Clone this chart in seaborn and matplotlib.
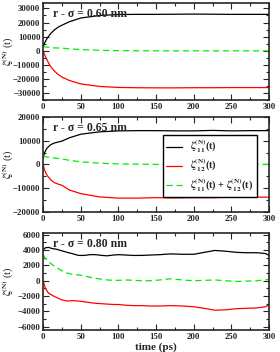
import matplotlib
matplotlib.use("Agg")
import matplotlib.pyplot as plt
from matplotlib.ticker import MultipleLocator
import seaborn as sns
import pandas as pd

# time grid for the two smooth panels
t_smooth = [0, 2, 5, 10, 15, 20, 25, 35, 50, 75, 100, 125, 150, 175, 200, 225, 250, 275, 300]

z11_060 = [2800, 5500, 8500, 12200, 14800, 16700, 18100, 20600, 23200, 25000, 25700,
           25800, 25800, 25900, 26000, 25900, 25800, 25800, 25800]
z12_060 = [0, -3000, -6500, -11300, -14500, -16900, -18700, -21200, -23600, -25400, -26100,
           -26300, -26400, -26400, -26300, -26300, -26200, -26200, -26200]
zsum_060 = [3000, 2800, 2500, 2200, 2000, 1900, 1800, 1300, 800, 250, 0,
            -50, -100, -100, -100, -100, -100, -100, -100]

z11_065 = [2800, 5000, 6800, 8300, 9000, 9400, 9800, 11200, 12700, 13700, 14100,
           14200, 14200, 14100, 14100, 14300, 14100, 14200, 14200]
z12_065 = [0, -2500, -4500, -6500, -7700, -8300, -8800, -10800, -12300, -13700, -14200,
           -14200, -14000, -14100, -14000, -14000, -13800, -13800, -13800]
zsum_065 = [3500, 3300, 3100, 2900, 2700, 2500, 2300, 1700, 1100, 500, 200,
            100, 0, 0, 0, 0, 0, 0, 0]

# noisier panel, more points
t_noisy = [0, 3, 7, 12, 18, 25, 32, 40, 47, 55, 62, 70, 78, 85, 93, 100, 110, 120, 130,
           142, 155, 169, 185, 200, 214, 228, 242, 257, 270, 284, 295, 300]
z11_080 = [4000, 4300, 4350, 4200, 4100, 3900, 3700, 3500, 3300, 3300, 3400, 3400, 3300,
           3250, 3350, 3400, 3350, 3300, 3300, 3350, 3400, 3500, 3450, 3450, 3700, 3950,
           3850, 3700, 3650, 3650, 3550, 3300]
z12_080 = [0, -1000, -1600, -1900, -2200, -2500, -2650, -2600, -2650, -2750, -2850, -2950,
           -3000, -3050, -3100, -3100, -3200, -3250, -3250, -3300, -3300, -3250, -3300,
           -3400, -3600, -3850, -3800, -3650, -3600, -3550, -3400, -3150]
zsum_080 = [3400, 2900, 2500, 2100, 1700, 1300, 1000, 800, 750, 650, 450, 300, 200, 100,
            50, 50, 100, 50, 0, 0, 100, 250, 100, 0, 50, 100, 0, -100, -50, 0, 100, 200]

panel_labels = ["r - \u03c3 = 0.60 nm", "r - \u03c3 = 0.65 nm", "r - \u03c3 = 0.80 nm"]
series_labels = [r"$\zeta^{(N)}_{\ 11}$(t)", r"$\zeta^{(N)}_{\ 12}$(t)",
                 r"$\zeta^{(N)}_{\ 11}$(t) + $\zeta^{(N)}_{\ 12}$(t)"]

panels = [
    (t_smooth, z11_060, z12_060, zsum_060, (-35000, 34000), 10000, 5000),
    (t_smooth, z11_065, z12_065, zsum_065, (-20000, 20000), 10000, 5000),
    (t_noisy, z11_080, z12_080, zsum_080, (-6430, 6200), 2000, 1000),
]

sns.set_style("ticks")
plt.rcParams["font.family"] = ["Liberation Serif", "DejaVu Serif"]
plt.rcParams["font.weight"] = "bold"
plt.rcParams["mathtext.fontset"] = "stix"
plt.rcParams["mathtext.default"] = "bf"

fig = plt.figure(figsize=(2.8, 3.52), dpi=100)
# axes boxes in figure fractions [left, bottom, width, height]
boxes = [[0.154, 0.716, 0.807, 0.276],
         [0.154, 0.398, 0.807, 0.270],
         [0.154, 0.0625, 0.807, 0.275]]

colors = ["black", "red", "#00ee00"]

for i, (t, a, b, c, ylim, major, minor) in enumerate(panels):
    ax = fig.add_axes(boxes[i])
    df = pd.DataFrame({"t": t, "z11": a, "z12": b, "zsum": c})
    sns.lineplot(data=df, x="t", y="z11", ax=ax, color=colors[0], lw=0.9, label=series_labels[0])
    sns.lineplot(data=df, x="t", y="z12", ax=ax, color=colors[1], lw=0.9, label=series_labels[1])
    sns.lineplot(data=df, x="t", y="zsum", ax=ax, color=colors[2], lw=0.9,
                 dashes=False, label=series_labels[2])
    ax.lines[2].set_dashes([5, 3])
    ax.set_xlim(0, 300)
    ax.set_ylim(*ylim)
    ax.xaxis.set_major_locator(MultipleLocator(50))
    ax.xaxis.set_minor_locator(MultipleLocator(25))
    ax.yaxis.set_major_locator(MultipleLocator(major))
    ax.yaxis.set_minor_locator(MultipleLocator(minor))
    ax.tick_params(which="both", direction="in", top=True, right=True, labelsize=6.3,
                   width=0.8, pad=2)
    ax.tick_params(which="major", length=4)
    ax.tick_params(which="minor", length=2)
    for lab in ax.get_xticklabels() + ax.get_yticklabels():
        lab.set_fontweight("bold")
    for s in ax.spines.values():
        s.set_linewidth(1.2)
    ax.set_ylabel(r"$\zeta^{(N)}$ (t)", fontsize=7.5)
    ax.yaxis.set_label_coords(-0.12, 0.5)
    ax.set_xlabel("time (ps)" if i == 2 else "", fontsize=8, fontweight="bold", labelpad=1)
    ax.text(0.045, 0.95, panel_labels[i], transform=ax.transAxes, ha="left", va="top",
            fontsize=8.5, fontweight="bold")
    if i == 1:
        leg = ax.legend(loc="upper left", bbox_to_anchor=(0.531, 0.81), fontsize=7.3,
                        frameon=True, fancybox=False, framealpha=1, edgecolor="black",
                        handlelength=1.6, borderpad=0.3, labelspacing=0.2,
                        borderaxespad=0)
        leg.get_frame().set_linewidth(1.0)
    else:
        ax.get_legend().remove()

fig.savefig("out.png", dpi=100)
